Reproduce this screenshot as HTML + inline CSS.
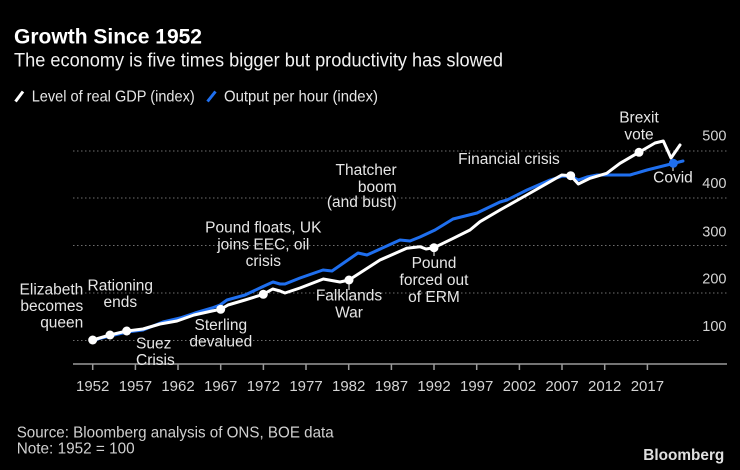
<!DOCTYPE html>
<html><head><meta charset="utf-8"><style>
html,body{margin:0;padding:0;background:#000;}
svg{display:block;}
text{font-family:"Liberation Sans",sans-serif;}
</style></head><body>
<svg width="740" height="470" viewBox="0 0 740 470" xmlns="http://www.w3.org/2000/svg">
<rect width="740" height="470" fill="#000"/>
<text x="14" y="43.3" font-size="21" font-weight="bold" fill="#fff" textLength="188" lengthAdjust="spacingAndGlyphs">Growth Since 1952</text>
<text x="14" y="66.7" font-size="19" fill="#f2f2f2" textLength="489" lengthAdjust="spacingAndGlyphs">The economy is five times bigger but productivity has slowed</text>
<line x1="15.5" y1="101.5" x2="23" y2="91.5" stroke="#fff" stroke-width="3"/>
<text x="31.7" y="101.5" font-size="16" fill="#e6e6e6" textLength="163" lengthAdjust="spacingAndGlyphs">Level of real GDP (index)</text>
<line x1="207.5" y1="101.5" x2="215.5" y2="91.5" stroke="#1f6fef" stroke-width="3"/>
<text x="224" y="101.5" font-size="16" fill="#e6e6e6" textLength="154" lengthAdjust="spacingAndGlyphs">Output per hour (index)</text>
<g stroke="#6e6e6e" stroke-width="1" stroke-dasharray="1.5,2.5">
<line x1="73" y1="151" x2="727" y2="151"/>
<line x1="73" y1="198" x2="727" y2="198"/>
<line x1="73" y1="245.5" x2="727" y2="245.5"/>
<line x1="73" y1="293" x2="727" y2="293"/>
<line x1="73" y1="340.5" x2="700" y2="340.5"/>
</g>
<g font-size="14.5" fill="#d4d4d4" text-anchor="end">
<text x="726.5" y="140.3">500</text>
<text x="726.5" y="188">400</text>
<text x="726.5" y="236.3">300</text>
<text x="726.5" y="283.6">200</text>
<text x="726.5" y="331">100</text>
</g>
<line x1="73" y1="364" x2="727" y2="364" stroke="#9a9a9a" stroke-width="1.5"/>
<g stroke="#9a9a9a" stroke-width="1.5">
<line x1="92.7" y1="364" x2="92.7" y2="370"/>
<line x1="135.4" y1="364" x2="135.4" y2="370"/>
<line x1="178" y1="364" x2="178" y2="370"/>
<line x1="220.7" y1="364" x2="220.7" y2="370"/>
<line x1="263.4" y1="364" x2="263.4" y2="370"/>
<line x1="306" y1="364" x2="306" y2="370"/>
<line x1="348.7" y1="364" x2="348.7" y2="370"/>
<line x1="391.4" y1="364" x2="391.4" y2="370"/>
<line x1="434" y1="364" x2="434" y2="370"/>
<line x1="476.7" y1="364" x2="476.7" y2="370"/>
<line x1="519.4" y1="364" x2="519.4" y2="370"/>
<line x1="562" y1="364" x2="562" y2="370"/>
<line x1="604.7" y1="364" x2="604.7" y2="370"/>
<line x1="647.4" y1="364" x2="647.4" y2="370"/>
</g>
<g font-size="15" fill="#d4d4d4" text-anchor="middle">
<text x="92.7" y="391">1952</text>
<text x="135.4" y="391">1957</text>
<text x="178" y="391">1962</text>
<text x="220.7" y="391">1967</text>
<text x="263.4" y="391">1972</text>
<text x="306" y="391">1977</text>
<text x="348.7" y="391">1982</text>
<text x="391.4" y="391">1987</text>
<text x="434" y="391">1992</text>
<text x="476.7" y="391">1997</text>
<text x="519.4" y="391">2002</text>
<text x="562" y="391">2007</text>
<text x="604.7" y="391">2012</text>
<text x="647.4" y="391">2017</text>
</g>
<polyline fill="none" stroke="#1f6fef" stroke-width="3" stroke-linejoin="round" stroke-linecap="round" points="93,340 110,336 127,332 143,330 163,322 180,318 195,313 212,308 220,305 227,300 245,295 262,287 273,282 280,284 285,284 300,278 323,270 332,271 358,253 367,255 400,240 410,241 420,237 435,230 453,219 473,214 477,213 500,202 507,200 527,190 550,180 563,176 571.7,176.7 578.3,180 587,177 597,175 630,175 647,170 673,163.5 683,161"/>
<polyline fill="none" stroke="#fff" stroke-width="3" stroke-linejoin="round" stroke-linecap="round" points="92.7,340 110,335 126.7,331 143,329 160,324 177,321 194,315 212,311 220.7,309.3 228,305 245,300 263.3,294.3 272.7,289 280,291 285,293 300,288 323.3,279 340,282 349,280 380,260 406.7,248.3 420,246.7 426,249 434,247.7 453.3,238.3 470,230 480,221.7 500,210 526.7,195 550,181.7 561.7,175 570.7,175.7 578.3,184 590,178.3 606.7,173.3 620,163.3 639,152.3 655,143 663.3,141 671,158 680,145"/>
<g stroke="#fff" stroke-width="1">
<line x1="349" y1="280" x2="349" y2="290"/>
<line x1="434" y1="247.7" x2="434" y2="256"/>
<line x1="673" y1="163" x2="673" y2="171"/>
</g>
<g fill="#fff">
<circle cx="92.7" cy="340" r="4.5"/>
<circle cx="110" cy="335" r="4.5"/>
<circle cx="126.7" cy="331" r="4.5"/>
<circle cx="220.7" cy="309.3" r="4.5"/>
<circle cx="263.3" cy="294.3" r="4.5"/>
<circle cx="349" cy="280" r="4.5"/>
<circle cx="434" cy="247.7" r="4.5"/>
<circle cx="570.7" cy="175.7" r="4.5"/>
<circle cx="639" cy="152.3" r="4.5"/>
</g>
<circle cx="673.3" cy="163.3" r="4.5" fill="#1f6fef"/>
<g font-size="15.5" fill="#e6e6e6">
<g text-anchor="end">
<text x="83.3" y="294.3">Elizabeth</text>
<text x="83.3" y="310.8">becomes</text>
<text x="83.3" y="327.3">queen</text>
<text x="396.7" y="175">Thatcher</text>
<text x="396.7" y="191.8">boom</text>
<text x="396.7" y="207">(and bust)</text>
</g>
<g text-anchor="middle">
<text x="120.3" y="290.7">Rationing</text>
<text x="120.3" y="306.9">ends</text>
<text x="220.8" y="330">Sterling</text>
<text x="220.8" y="346.7">devalued</text>
<text x="263.3" y="232.7">Pound floats, UK</text>
<text x="263.3" y="249.3">joins EEC, oil</text>
<text x="263.3" y="266">crisis</text>
<text x="349" y="300.7">Falklands</text>
<text x="349" y="317.5">War</text>
<text x="434" y="268">Pound</text>
<text x="434" y="285">forced out</text>
<text x="434" y="302">of ERM</text>
<text x="509" y="164">Financial crisis</text>
<text x="639" y="122.7">Brexit</text>
<text x="639" y="139.3">vote</text>
<text x="673" y="182.7">Covid</text>
</g>
<text x="136" y="348.3">Suez</text>
<text x="136" y="365">Crisis</text>
</g>
<text x="16.7" y="437.5" font-size="16" fill="#d0d0d0" textLength="317" lengthAdjust="spacingAndGlyphs">Source: Bloomberg analysis of ONS, BOE data</text>
<text x="16.7" y="453.5" font-size="16" fill="#d0d0d0" textLength="118" lengthAdjust="spacingAndGlyphs">Note: 1952 = 100</text>
<text x="643.3" y="460" font-size="16" font-weight="bold" fill="#e0e0e0" textLength="81" lengthAdjust="spacingAndGlyphs">Bloomberg</text>
</svg>
</body></html>
